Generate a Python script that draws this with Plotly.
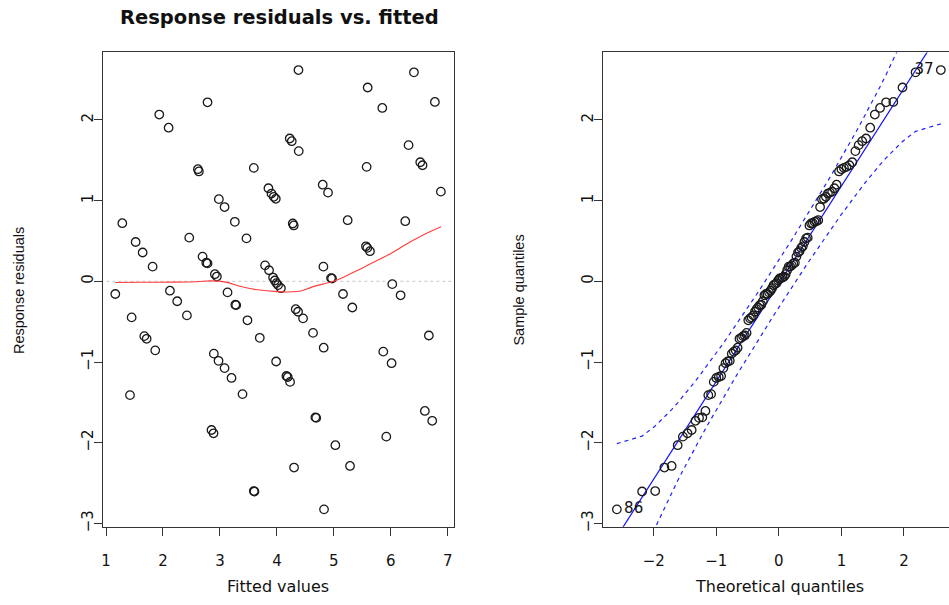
import statistics
import numpy as np
import plotly.graph_objects as go

# ---- data: fitted values and response residuals of the model ----
fitted = [
    4.378, 6.405, 5.593, 2.782, 6.773, 5.850, 1.935, 2.099, 4.225, 4.260,
    4.383, 6.311, 6.516, 6.556, 5.575, 3.594, 2.613, 2.630, 4.804, 4.897,
    3.851, 3.904, 3.945, 3.980, 2.981, 3.081, 6.878, 1.286, 3.261, 4.278,
    4.295, 5.242, 6.253, 1.520, 2.461, 3.466, 1.643, 1.818, 2.695, 2.760,
    2.782, 3.792, 3.862, 4.816, 5.563, 5.587, 5.633, 2.911, 2.946, 3.933,
    3.963, 3.992, 4.020, 4.070, 4.950, 4.967, 6.025, 6.171, 5.160, 1.163,
    2.122, 2.250, 3.133, 3.270, 3.285, 5.324, 1.450, 2.420, 3.483, 4.330,
    4.371, 4.459, 3.699, 4.634, 4.821, 1.672, 1.713, 1.864, 2.893, 2.975,
    3.081, 3.203, 3.396, 1.421, 3.986, 4.167, 4.190, 4.231, 5.867, 6.013,
    6.667, 6.597, 6.726, 2.852, 2.887, 4.675, 4.690, 5.920, 5.026, 4.301,
    5.283, 3.595, 3.605, 4.827,
]
resid = [
    2.617, 2.589, 2.401, 2.218, 2.222, 2.148, 2.066, 1.903, 1.769, 1.736,
    1.613, 1.687, 1.475, 1.438, 1.418, 1.405, 1.389, 1.361, 1.197, 1.099,
    1.153, 1.087, 1.047, 1.022, 1.018, 0.920, 1.111, 0.720, 0.737, 0.716,
    0.692, 0.757, 0.745, 0.487, 0.541, 0.532, 0.357, 0.182, 0.306, 0.230,
    0.222, 0.198, 0.137, 0.182, 0.434, 0.414, 0.373, 0.088, 0.059, 0.047,
    0.010, -0.022, -0.047, -0.085, 0.040, 0.035, -0.035, -0.173, -0.157, -0.157,
    -0.116, -0.247, -0.137, -0.290, -0.295, -0.324, -0.447, -0.422, -0.483, -0.345,
    -0.377, -0.459, -0.700, -0.639, -0.822, -0.679, -0.712, -0.855, -0.896, -0.985,
    -1.075, -1.197, -1.397, -1.410, -0.993, -1.173, -1.185, -1.246, -0.871, -1.014,
    -0.671, -1.606, -1.728, -1.842, -1.883, -1.685, -1.692, -1.924, -2.030, -2.307,
    -2.287, -2.598, -2.604, -2.825,
]
# observation ids of the two extreme residuals
id_labels = {"max": "37", "min": "86"}

# smoother through the residuals
smooth_x = [1.16, 1.6, 2.2, 2.6, 2.84, 3.1, 3.37, 3.66, 4.0, 4.27, 4.42,
            4.6, 4.8, 5.0, 5.12, 5.4, 5.65, 6.0, 6.23, 6.5, 6.88]
smooth_y = [-0.015, -0.012, -0.01, -0.005, 0.005, -0.01, -0.065, -0.105, -0.128,
            -0.13, -0.12, -0.075, -0.035, 0.0, 0.035, 0.13, 0.22, 0.345, 0.443,
            0.55, 0.675]

# Q-Q reference line (intercept, slope)
qq_intercept = -0.03
qq_slope = 1.21

left_xticks = [1, 2, 3, 4, 5, 6, 7]
right_xticks = [-2, -1, 0, 1, 2]
yticks = [-3, -2, -1, 0, 1, 2]

# ---- normal Q-Q quantities with a 95% pointwise envelope ----
nd = statistics.NormalDist()
n = len(resid)
sample_q = np.sort(np.array(resid))
P = (np.arange(1, n + 1) - 0.5) / n
theo_q = np.array([nd.inv_cdf(p) for p in P])
dens = np.array([nd.pdf(z) for z in theo_q])
se = qq_slope / dens * np.sqrt(P * (1 - P) / n)
zz = nd.inv_cdf(0.975)
fit_line = qq_intercept + qq_slope * theo_q
upper = fit_line + zz * se
lower = fit_line - zz * se

FIG_W, FIG_H = 949, 605
def px(x):
    return x / FIG_W
def py(y):
    return 1 - y / FIG_H

fig = go.Figure()

# left panel: residuals vs fitted
fig.add_trace(go.Scatter(
    x=[0.9, 7.2], y=[0, 0], mode="lines", xaxis="x", yaxis="y",
    line=dict(color="#c8c8c8", width=1, dash="dot"), hoverinfo="skip"))
fig.add_trace(go.Scatter(
    x=fitted, y=resid, mode="markers", xaxis="x", yaxis="y",
    marker=dict(symbol="circle-open", size=8.5, color="#1a1a1a",
                line=dict(width=1.3, color="#1a1a1a"))))
fig.add_trace(go.Scatter(
    x=smooth_x, y=smooth_y, mode="lines", xaxis="x", yaxis="y",
    line=dict(color="#ff3b3b", width=1.1, shape="spline")))

# right panel: normal Q-Q plot
ref_x = np.array([-3.2, 3.2])
fig.add_trace(go.Scatter(
    x=ref_x, y=qq_intercept + qq_slope * ref_x, mode="lines", xaxis="x2", yaxis="y2",
    line=dict(color="#1010ff", width=1.2)))
fig.add_trace(go.Scatter(
    x=theo_q, y=upper, mode="lines", xaxis="x2", yaxis="y2",
    line=dict(color="#2020ff", width=1.2, dash="4px,4px")))
fig.add_trace(go.Scatter(
    x=theo_q, y=lower, mode="lines", xaxis="x2", yaxis="y2",
    line=dict(color="#2020ff", width=1.2, dash="4px,4px")))
fig.add_trace(go.Scatter(
    x=theo_q, y=sample_q, mode="markers", xaxis="x2", yaxis="y2",
    marker=dict(symbol="circle-open", size=8.5, color="#1a1a1a",
                line=dict(width=1.3, color="#1a1a1a"))))
# id labels beside the extreme points (invisible markers give the offset)
label_marker = dict(size=10, opacity=0)
fig.add_trace(go.Scatter(
    x=[theo_q[-1]], y=[sample_q[-1]], mode="markers+text", xaxis="x2", yaxis="y2",
    text=[id_labels["max"]], textposition="middle left", marker=label_marker,
    textfont=dict(family="DejaVu Sans", size=15, color="#111")))
fig.add_trace(go.Scatter(
    x=[theo_q[0]], y=[sample_q[0]], mode="markers+text", xaxis="x2", yaxis="y2",
    text=[id_labels["min"]], textposition="middle right", marker=label_marker,
    textfont=dict(family="DejaVu Sans", size=15, color="#111")))

tick_font = dict(family="DejaVu Sans", size=15, color="#111")
frame = dict(showline=True, linecolor="#333", linewidth=1, ticks="outside",
             ticklen=8, tickcolor="#333", showgrid=False, zeroline=False,
             tickfont=tick_font)

y_dom = [py(532), py(53)]
fig.update_layout(
    width=FIG_W, height=FIG_H,
    margin=dict(l=0, r=0, t=0, b=0),
    paper_bgcolor="white", plot_bgcolor="white",
    showlegend=False,
    xaxis=dict(domain=[px(101.7), px(453)], range=[0.94, 7.10],
               tickvals=left_xticks, mirror=True, anchor="y",
               ticklabelstandoff=12, **frame),
    yaxis=dict(domain=y_dom, range=[-3.04, 2.835], tickvals=yticks,
               mirror=True, anchor="x", tickangle=-90,
               ticklabelstandoff=-5, **frame),
    xaxis2=dict(domain=[px(602.7), 1.0], range=[-2.81, 2.72],
                tickvals=right_xticks, mirror=True, anchor="y2",
                ticklabelstandoff=12, **frame),
    yaxis2=dict(domain=y_dom, range=[-3.04, 2.835], tickvals=yticks,
                mirror=False, anchor="x2", tickangle=-90,
                ticklabelstandoff=-5, **frame),
)

label_font = dict(family="DejaVu Sans", size=16, color="#111")
common = dict(xref="paper", yref="paper", showarrow=False,
              xanchor="center", yanchor="middle")
fig.add_annotation(text="<b>Response residuals vs. fitted</b>", x=px(279), y=py(18),
                   font=dict(family="DejaVu Sans", size=19.5, color="#111"), **common)
fig.add_annotation(text="Fitted values", x=px(277.5), y=py(592),
                   font=label_font, **common)
fig.add_annotation(text="Theoretical quantiles", x=px(779), y=py(592),
                   font=label_font, **common)
fig.add_annotation(text="Response residuals", x=px(18), y=py(293), textangle=-90,
                   font=dict(family="Liberation Sans", size=14.5, color="#111"), **common)
fig.add_annotation(text="Sample quantiles", x=px(519), y=py(293), textangle=-90,
                   font=dict(family="Liberation Sans", size=14.5, color="#111"), **common)

fig.write_html("out.html")
